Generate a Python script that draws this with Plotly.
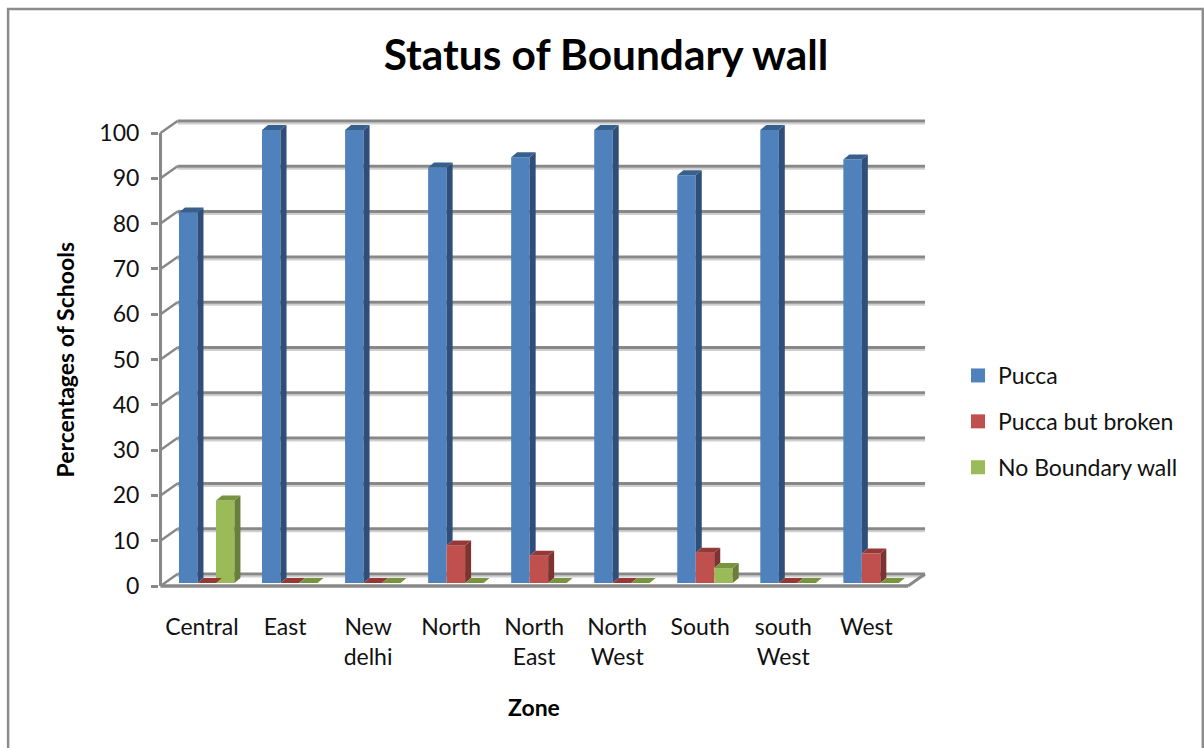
import plotly.graph_objects as go

# ---- data ----
zones = ["Central", "East", "New<br>delhi", "North", "North<br>East", "North<br>West", "South", "south<br>West", "West"]
pucca = [81.8, 100, 100, 91.7, 94, 100, 90, 100, 93.5]
broken = [0, 0, 0, 8.3, 6, 0, 6.7, 0, 6.5]
no_wall = [18.2, 0, 0, 0, 0, 0, 3.3, 0, 0]
y_ticks = list(range(0, 101, 10))

series = [
    ("Pucca", pucca, "#4F81BD", "#2F4F7A", "#38608F"),
    ("Pucca but broken", broken, "#C0504D", "#7F3331", "#953937"),
    ("No Boundary wall", no_wall, "#9BBB59", "#687E3A", "#78943F"),
]

# ---- geometry ----
W, H = 1204, 748
PX_CAT = 83.1      # pixels per category
PX_VAL = 4.53      # pixels per percentage point
X0_PX, Y0_PX = 201.5, 586  # pixel of first category / of value 0
L, R, T, B = 158.5, 928, 118, 589  # plot box in pixels

def ux(px): return px / PX_CAT
def uy(px): return px / PX_VAL

x_rng = [ux(L - X0_PX), ux(R - X0_PX)]
y_rng = [uy(Y0_PX - B), uy(Y0_PX - T)]
front_x = ux(160 - X0_PX)
front_end = ux(908 - X0_PX)
wall_dx, wall_dy = ux(17), uy(12)
bar_w = ux(18.5)
bar_dx, bar_dy = ux(6), uy(5)
bar_base = uy(3)
first_off = ux(-23)

GRID, SHADOW = "#888888", "#cfcfcf"
FONT = "Lato"
INK = "#111111"
fig = go.Figure()

# front faces as real bars
for s, (name, vals, c, _, _) in enumerate(series):
    fig.add_bar(x=list(range(len(zones))), y=vals, base=[bar_base] * len(vals), width=bar_w,
                offset=first_off + s * bar_w, name=name, legendgroup=name, showlegend=False,
                marker=dict(color=c, line=dict(width=0)))

# side and top faces, from the same values
for s, (name, vals, c, side, top) in enumerate(series):
    nxt = series[s + 1][1] if s + 1 < len(series) else [0] * len(vals)
    for i, v in enumerate(vals):
        xl = i + first_off + s * bar_w
        xr = xl + bar_w
        yt = bar_base + v
        yb = bar_base + min(nxt[i], v)
        if v > 0:
            fig.add_scatter(x=[xr, xr + bar_dx, xr + bar_dx, xr, xr], y=[yb, yb + bar_dy, yt + bar_dy, yt, yb],
                            mode="lines", fill="toself", fillcolor=side, line=dict(width=0),
                            showlegend=False, hoverinfo="skip")
        fig.add_scatter(x=[xl, xr, xr + bar_dx, xl + bar_dx, xl], y=[yt, yt, yt + bar_dy, yt + bar_dy, yt],
                        mode="lines", fill="toself", fillcolor=top, line=dict(width=0),
                        showlegend=False, hoverinfo="skip")

# legend keys
for name, vals, c, _, _ in series:
    fig.add_scatter(x=[None], y=[None], mode="markers", name=name, legendgroup=name,
                    marker=dict(symbol="square", size=14, color=c))

# walls and gridlines
shapes = []
def seg(x0, y0, x1, y1, color=GRID, width=3):
    shapes.append(dict(type="line", xref="x", yref="y", x0=x0, y0=y0, x1=x1, y1=y1,
                       layer="below", line=dict(color=color, width=width)))

for v in y_ticks:
    yb = v + wall_dy
    seg(front_x + wall_dx, yb - uy(2.5), x_rng[1] - ux(3), yb - uy(2.5), SHADOW, 2)
    seg(front_x, v, front_x + wall_dx, yb, GRID, 2.5)
    seg(front_x + wall_dx, yb, x_rng[1] - ux(3), yb)
seg(front_x, 0, front_x, 100, GRID, 3)
seg(front_x, 0, front_end, 0, GRID, 3.5)
seg(front_end, 0, front_end + wall_dx, wall_dy, GRID, 3)

# chart frame, in paper coordinates
pw, ph = R - L, B - T
shapes.append(dict(type="rect", xref="paper", yref="paper", layer="below",
                   x0=(7.5 - L) / pw, x1=(1203 - L) / pw, y0=(B - 770) / ph, y1=(B - 9) / ph,
                   line=dict(color="#8c8c8c", width=2.5), fillcolor="rgba(0,0,0,0)"))

fig.update_layout(
    width=W, height=H, autosize=False, barmode="overlay", shapes=shapes,
    paper_bgcolor="white", plot_bgcolor="white",
    margin=dict(l=L, r=W - R, t=T, b=H - B, pad=0),
    font=dict(family=FONT, color=INK, size=23),
    title=dict(text="Status of Boundary wall", x=606 / W, xref="container", xanchor="center",
               y=1 - 55 / H, yref="container", yanchor="middle",
               font=dict(family=FONT, size=42.4, color="#000000", weight=700)),
    xaxis=dict(range=x_rng, tickmode="array", tickvals=list(range(len(zones))), ticktext=zones,
               showgrid=False, zeroline=False, showline=False, ticks="outside", ticklen=17,
               tickcolor="rgba(0,0,0,0)", tickfont=dict(family=FONT, size=23, color=INK)),
    yaxis=dict(range=y_rng, tickmode="array", tickvals=y_ticks, ticktext=[str(v) for v in y_ticks],
               showgrid=False, zeroline=False, showline=False, ticks="outside", ticklen=7, tickwidth=3,
               tickcolor=GRID, ticklabelstandoff=7, tickfont=dict(family=FONT, size=23, color=INK)),
    legend=dict(x=958 / W, xref="container", xanchor="left", y=1 - 354 / H, yref="container", yanchor="top",
                tracegroupgap=13, itemwidth=30, font=dict(family=FONT, size=23, color=INK),
                bgcolor="rgba(0,0,0,0)"),
    annotations=[
        dict(text="Percentages of Schools", xref="paper", yref="paper", x=(64 - L) / pw, y=(B - 360) / ph,
             xanchor="center", yanchor="middle",
             textangle=-90, showarrow=False, font=dict(family=FONT, size=23, weight=700, color="#000000")),
        dict(text="Zone", xref="paper", yref="paper", x=(534 - L) / pw, y=(B - 707) / ph,
             xanchor="center", yanchor="middle",
             showarrow=False, font=dict(family=FONT, size=23, weight=700, color="#000000")),
    ],
)

fig.write_html("out.html", config=dict(displayModeBar=False),
               post_script="document.body.style.margin='0';document.body.style.overflow='hidden';")
